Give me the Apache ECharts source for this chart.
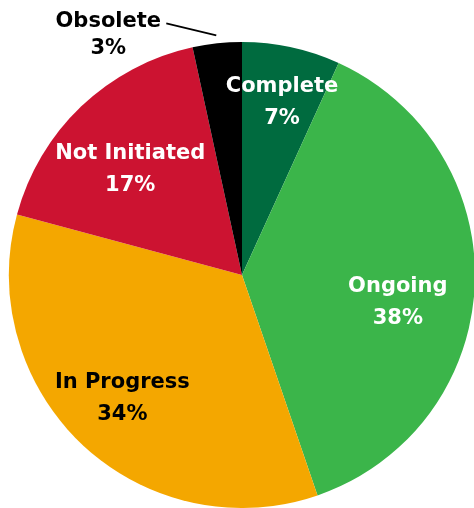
<!DOCTYPE html>
<html>
<head>
<meta charset="utf-8">
<script src="https://cdn.jsdelivr.net/npm/echarts@6/dist/echarts.min.js"></script>
<style>
html,body{margin:0;padding:0;background:#fff;}
#chart{width:474px;height:508px;}
</style>
</head>
<body>
<div id="chart"></div>
<script>
// Data
var categories = ['Complete', 'Ongoing', 'In Progress', 'Not Initiated', 'Obsolete'];
var values = [6.8, 37.9, 34.4, 17.4, 3.4];

// Styles
var colors = ['#006b3f', '#3bb54a', '#f4a700', '#cc1331', '#000000'];
var textColors = ['#ffffff', '#ffffff', '#000000', '#ffffff', '#000000'];
var labelOffsets = [[5, -11], [-9, 20], [-7, 3], [2, 14], [0, 0]];

var FONT = '"DejaVu Sans", sans-serif';
var FS = 21;

var baseData = categories.map(function (c, i) {
  return { name: c, value: values[i], itemStyle: { color: colors[i] } };
});

var lastIdx = categories.length - 1;
var labelData = categories.map(function (c, i) {
  var d = { name: c, value: values[i] };
  if (i === lastIdx) {
    d.label = {
      position: 'outside',
      color: textColors[i],
      formatter: function (p) { return '{a|' + p.name + '}\n{a|' + Math.round(p.value) + '%}'; },
      rich: { a: { width: 108, align: 'center', fontFamily: FONT, fontWeight: 'bold', fontSize: FS, lineHeight: 27, color: textColors[i] } },
      distanceToLabelLine: 4
    };
    d.labelLine = { show: true, length: 8, length2: 50, lineStyle: { color: '#000', width: 1.6 } };
  } else {
    d.label = { color: textColors[i], offset: labelOffsets[i] };
  }
  return d;
});

var chart = echarts.init(document.getElementById('chart'), null, { renderer: 'canvas' });
chart.setOption({
  animation: false,
  series: [
    {
      type: 'pie',
      center: [242, 275],
      radius: [0, 233],
      startAngle: 90,
      clockwise: true,
      silent: true,
      label: { show: false },
      labelLine: { show: false },
      itemStyle: { borderWidth: 0 },
      data: baseData
    },
    {
      type: 'pie',
      center: [242, 275],
      radius: [91, 233],
      startAngle: 90,
      clockwise: true,
      silent: true,
      itemStyle: { color: 'rgba(0,0,0,0)', borderWidth: 0 },
      label: {
        show: true,
        position: 'inside',
        fontFamily: FONT,
        fontWeight: 'bold',
        fontSize: FS,
        lineHeight: 32,
        formatter: function (p) { return p.name + '\n' + Math.round(p.value) + '%'; }
      },
      labelLine: { show: false },
      labelLayout: function (params) {
        if (params.dataIndex === lastIdx && params.labelLinePoints) {
          var pts = params.labelLinePoints;
          var mid = pts[1];
          var end = pts[2];
          return { labelLinePoints: [mid, mid, [end[0], end[1] - 12]] };
        }
        return {};
      },
      data: labelData
    }
  ]
});
</script>
</body>
</html>
